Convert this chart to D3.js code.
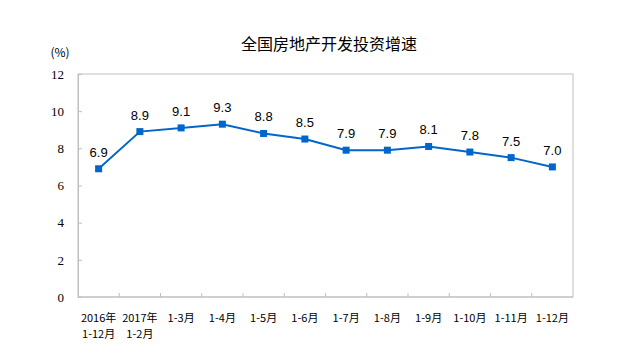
<!DOCTYPE html>
<html>
<head>
<meta charset="utf-8">
<script src="https://cdn.jsdelivr.net/npm/d3@7"></script>
<style>
  body { margin: 0; background: #fff; }
  svg { display: block; }
</style>
</head>
<body>
<div id="chart"></div>
<script>
const categories = ["2016年\n1-12月", "2017年\n1-2月", "1-3月", "1-4月", "1-5月", "1-6月", "1-7月", "1-8月", "1-9月", "1-10月", "1-11月", "1-12月"];
const values = [6.9, 8.9, 9.1, 9.3, 8.8, 8.5, 7.9, 7.9, 8.1, 7.8, 7.5, 7.0];
const yTicks = [0, 2, 4, 6, 8, 10, 12];
const title = "全国房地产开发投资增速";

const width = 629, height = 364;
const margin = {top: 74, right: 56, bottom: 67, left: 78};
const innerW = width - margin.left - margin.right;
const innerH = height - margin.top - margin.bottom;

const svg = d3.select("#chart").append("svg")
  .attr("width", width)
  .attr("height", height);

const g = svg.append("g")
  .attr("transform", `translate(${margin.left},${margin.top})`);

const x = d3.scaleBand().domain(categories).range([0, innerW]);
const y = d3.scaleLinear().domain([0, 12]).range([innerH, 0]);

const axisColor = "#bfbfbf";
const cjk = "'Noto Sans CJK SC', 'Noto Sans', sans-serif";

// plot frame
g.append("rect")
  .attr("width", innerW).attr("height", innerH)
  .attr("fill", "none").attr("stroke", axisColor).attr("stroke-width", 1);

// y axis
const yAxis = g.append("g")
  .call(d3.axisLeft(y).tickValues(yTicks).tickSize(-4).tickPadding(14));
yAxis.select(".domain").attr("stroke", axisColor);
yAxis.selectAll(".tick line").attr("stroke", axisColor);
yAxis.selectAll(".tick text")
  .attr("fill", "#000")
  .style("font-family", "'Liberation Serif', 'DejaVu Serif', serif")
  .style("font-size", "13px");

// x axis: ticks at category boundaries, pointing up
const bounds = d3.range(1, categories.length).map(i => i * x.step());
const xg = g.append("g").attr("transform", `translate(0,${innerH})`);
xg.append("line").attr("x1", 0).attr("x2", innerW)
  .attr("stroke", axisColor);
xg.selectAll("line.tk").data(bounds).join("line")
  .attr("class", "tk")
  .attr("x1", d => d).attr("x2", d => d)
  .attr("y1", 0).attr("y2", -4)
  .attr("stroke", axisColor);

const xl = xg.selectAll("text.xl").data(categories).join("text")
  .attr("class", "xl")
  .attr("x", d => x(d) + x.bandwidth() / 2)
  .attr("y", 25)
  .attr("text-anchor", "middle")
  .style("font-family", cjk)
  .style("font-size", "11px")
  .attr("fill", "#000");
xl.each(function(d) {
  const parts = d.split("\n");
  d3.select(this).selectAll("tspan").data(parts).join("tspan")
    .attr("x", x(d) + x.bandwidth() / 2)
    .attr("dy", (p, i) => i === 0 ? 0 : 16)
    .text(p => p);
});

// line
const line = d3.line()
  .x((d, i) => x(categories[i]) + x.bandwidth() / 2)
  .y(d => y(d));

g.append("path")
  .datum(values)
  .attr("fill", "none")
  .attr("stroke", "#0066cc")
  .attr("stroke-width", 2)
  .attr("d", line);

g.selectAll("rect.pt").data(values).join("rect")
  .attr("class", "pt")
  .attr("x", (d, i) => x(categories[i]) + x.bandwidth() / 2 - 3.5)
  .attr("y", d => y(d) - 3.5)
  .attr("width", 7).attr("height", 7)
  .attr("fill", "#0066cc");

g.selectAll("text.lbl").data(values).join("text")
  .attr("class", "lbl")
  .attr("x", (d, i) => x(categories[i]) + x.bandwidth() / 2)
  .attr("y", d => y(d) - 12)
  .attr("text-anchor", "middle")
  .style("font-family", "'Liberation Sans', Arial, sans-serif")
  .style("font-size", "13px")
  .attr("fill", "#000")
  .text(d => d.toFixed(1));

// title
svg.append("text")
  .attr("x", 329).attr("y", 50)
  .attr("text-anchor", "middle")
  .style("font-family", cjk)
  .style("font-size", "16px")
  .attr("fill", "#000")
  .text(title);

svg.append("text")
  .attr("x", 60).attr("y", 57)
  .attr("text-anchor", "middle")
  .style("font-family", cjk)
  .style("font-size", "12px")
  .attr("fill", "#000")
  .text("(%)");
</script>
</body>
</html>
